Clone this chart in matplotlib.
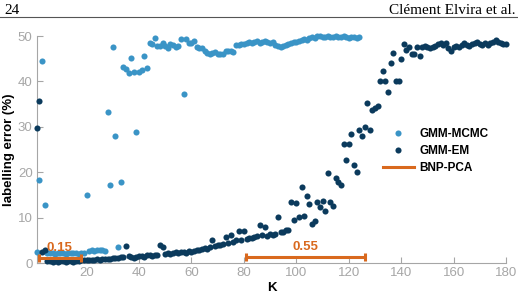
import numpy as np
import matplotlib
matplotlib.use("Agg")
import matplotlib.pyplot as plt

# %%
# labelling error (%) per K
mcmc_err = [2.5, 18.2, 44.6, 12.9,
            2.2, 2.3, 2.2, 2.1, 2.2, 2.3, 2.2, 2.1, 2.2, 2.3, 2.2, 2.2, 2.1, 2.2, 2.3,
            15.0, 2.7, 2.8, 2.7, 2.8, 2.9, 2.8, 2.6,
            33.3, 17.3, 47.7, 27.9, 3.5, 17.8, 43.2, 42.7, 41.8, 45.1, 42.0, 28.8,
            42.1, 42.6, 45.6, 43.0, 48.4, 48.2, 49.6, 47.8, 47.9, 48.5, 47.9,
            47.4, 48.2, 48.0, 47.6, 47.8, 49.3, 37.2, 49.3, 48.4, 48.4,
            49.0, 47.5, 47.4, 47.4, 46.7, 46.2, 46.0, 46.3, 46.4, 46.1,
            46.0, 46.0, 46.7, 46.8, 46.8, 46.5, 48.0, 48.0, 48.2, 48.3,
            48.5, 48.6, 48.4, 48.7, 48.9, 48.5, 48.8, 49.0, 48.7, 48.4,
            48.6, 48.1, 47.8, 47.6, 47.9, 48.1, 48.3, 48.5, 48.7, 48.6,
            49.0, 49.1, 49.3, 49.2, 49.5, 49.8, 49.6, 50.0, 50.1, 49.8,
            49.9, 50.0, 49.8, 49.9, 50.0, 49.7, 49.8, 50.0, 49.8, 49.5,
            49.7, 49.9, 49.6, 49.8]

em_err = [29.8, 35.7, 2.5, 3.0,
          0.4, 0.5, 0.3, 0.4, 0.3, 0.5, 0.4, 0.3, 0.4, 0.5, 0.3, 0.4, 0.5, 0.6,
          0.7, 0.6, 0.8, 0.7, 0.8, 0.9, 0.8, 0.9, 1.0, 0.9, 1.0, 1.1,
          1.1, 1.2, 1.3, 1.4, 3.8,
          1.6, 1.4, 1.2, 1.3, 1.5, 1.6, 1.4, 1.7, 1.8, 1.6, 1.9, 1.8,
          4.0, 3.5,
          2.1, 2.2, 2.1, 2.3, 2.4, 2.3, 2.5, 2.4, 2.3, 2.6, 2.5, 2.7, 2.8,
          3.0, 3.1, 3.3, 3.2, 3.5, 5.2, 3.8, 4.0, 4.1, 4.3,
          5.8, 4.4, 6.3, 4.7, 5.0, 7.1, 5.2, 7.0, 5.3, 5.5,
          5.6, 5.8, 6.0, 8.3, 6.1, 7.9, 6.0, 6.4, 6.2, 6.5,
          10.1, 6.8, 6.9, 7.2, 7.4, 13.5, 9.6, 13.3, 10.1, 16.8,
          10.4, 14.8, 13.1, 8.7, 9.3, 13.4, 12.3, 13.7, 11.5, 19.9,
          13.4, 12.6, 18.8, 17.8, 17.2, 26.2, 22.7, 26.2, 28.4, 21.6,
          20.0, 29.4, 28.1, 30.0, 35.3, 29.3, 33.7, 34.2, 34.6, 40.2,
          42.4, 40.2, 37.7, 44.0, 46.3, 40.2, 40.2, 44.9, 48.2, 46.9,
          47.6, 46.0, 46.0, 47.6, 45.6, 47.5, 47.8, 47.5, 47.3, 47.6,
          47.9, 48.2, 48.4, 48.0, 48.5, 47.4, 46.6, 47.5, 47.8, 47.6,
          48.1, 48.4, 48.0, 47.9, 48.3, 48.5, 48.6, 48.2, 48.0, 48.4,
          48.1, 48.5, 48.8, 49.1, 48.7, 48.4, 48.2, 48.3]

# BNP-PCA: K interval and labelling error, with the annotation
bnp_k_lo = [1.7, 80.8]
bnp_k_hi = [17.9, 126.0]
bnp_err = [1.2, 1.3]
bnp_label = ['0.15', '0.55']

k_mcmc = np.arange(1, len(mcmc_err) + 1)
k_em = np.arange(1, len(em_err) + 1)

c_mcmc = '#3a94c6'
c_em = '#0b3a5c'
c_bnp = '#d9691e'
c_axis = '#a6a6a6'

plt.rcParams['font.family'] = ['Liberation Sans', 'DejaVu Sans']

fig = plt.figure(figsize=(5.18, 2.98), dpi=100)
ax = fig.add_axes([0.071, 0.117, 0.906, 0.762])

ax.plot(k_mcmc, mcmc_err, 'o', color=c_mcmc, ms=4.4, mew=0, label='GMM-MCMC', clip_on=False, zorder=3)
ax.plot(k_em, em_err, 'o', color=c_em, ms=4.4, mew=0, label='GMM-EM', clip_on=False, zorder=4)

for lo, hi, e, lab in zip(bnp_k_lo, bnp_k_hi, bnp_err, bnp_label):
    mid = (lo + hi) / 2
    ax.errorbar(mid, e, xerr=[[mid - lo], [hi - mid]], fmt='none', ecolor=c_bnp,
                elinewidth=2.2, capsize=3, capthick=2.2, zorder=5, clip_on=False)
    ax.text(mid, e + 0.9, lab, color=c_bnp, fontsize=9.5, fontweight='bold',
            ha='center', va='bottom', zorder=6)
ax.plot([], [], '-', color=c_bnp, lw=2.2, label='BNP-PCA')

ax.set_xlim(1, 180)
ax.set_ylim(0, 50)
ax.set_xticks([20, 40, 60, 80, 100, 120, 140, 160, 180])
ax.set_yticks([0, 10, 20, 30, 40, 50])
ax.tick_params(direction='in', colors=c_axis, labelsize=9.5, length=4, width=0.8, pad=3)
for s in ['top', 'right']:
    ax.spines[s].set_visible(False)
for s in ['left', 'bottom']:
    ax.spines[s].set_color(c_axis)
    ax.spines[s].set_linewidth(0.8)

ax.set_xlabel('K', fontsize=9.5, fontweight='bold', labelpad=2)
ax.set_ylabel('labelling error (%)', fontsize=9.5, fontweight='bold')
ax.yaxis.set_label_coords(-0.046, 0.5)

leg = ax.legend(loc='upper left', bbox_to_anchor=(0.715, 0.64), frameon=False,
                handlelength=2.6, handletextpad=0.5, labelspacing=0.42,
                prop={'weight': 'bold', 'size': 8.5})

# page header
fig.text(0.008, 0.985, '24', fontsize=11, family='Liberation Serif', va='top', ha='left')
fig.text(0.995, 0.985, 'Clément Elvira et al.', fontsize=11, family='Liberation Serif', va='top', ha='right')
fig.add_artist(plt.Line2D([0, 1], [0.944, 0.944], color='#555555', lw=0.8, transform=fig.transFigure))

fig.savefig('out.png', dpi=100)
